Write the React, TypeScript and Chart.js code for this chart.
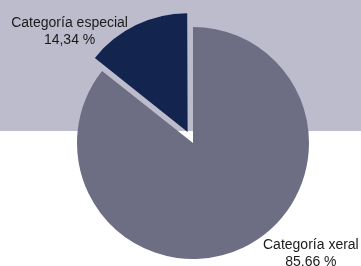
import React, { useEffect, useRef } from "react";
import { Chart, registerables } from "chart.js";

Chart.register(...registerables);

const categories = ["Categoría xeral", "Categoría especial"];
const values = [85.66, 14.34];
const colors = ["#6d6d84", "#13254f"];
const explode = [0, 15];

const fmt = (v: number) => v.toFixed(2).replace(".", ",") + " %";

const total = values.reduce((a, b) => a + b, 0);
// Chart.js translates an arc by offset/4 * (1 + fix); invert to get a pixel explode distance
const arcFactor = (v: number) => {
  const circ = (v / total) * Math.PI * 2;
  const fix = 1 - Math.sin(Math.min(Math.PI, circ));
  return (1 + fix) / 4;
};
const chartOffsets = values.map((v, i) => explode[i] / arcFactor(v));

const bandPlugin = {
  id: "band",
  beforeDraw(chart: any) {
    const { ctx, width } = chart;
    ctx.save();
    ctx.fillStyle = "#bcbccc";
    ctx.fillRect(0, 0, width, 131);
    ctx.restore();
  },
};

const labelPlugin = {
  id: "sliceLabels",
  afterDatasetsDraw(chart: any) {
    const { ctx } = chart;
    const meta = chart.getDatasetMeta(0);
    ctx.save();
    ctx.font = "14px 'Liberation Sans', Arial, sans-serif";
    ctx.fillStyle = "#1a1a1a";
    ctx.textAlign = "center";
    ctx.textBaseline = "alphabetic";
    meta.data.forEach((arc: any, i: number) => {
      const { x, y, startAngle, endAngle, outerRadius } = arc.getProps(
        ["x", "y", "startAngle", "endAngle", "outerRadius"],
        true
      );
      const mid = (startAngle + endAngle) / 2;
      const r = outerRadius + (explode[i] || 0);
      const px = x + Math.cos(mid) * r;
      const py = y + Math.sin(mid) * r;
      const lines = [categories[i], fmt(values[i])];
      const w = Math.max(...lines.map((l) => ctx.measureText(l).width));
      const right = px >= x;
      const cx = right ? px + 19.5 + w / 2 : px - 8 - w / 2;
      const base = py + 2;
      ctx.fillText(lines[0], cx, base);
      ctx.fillText(lines[1], cx, base + 16.5);
    });
    ctx.restore();
  },
};

export default function App() {
  const ref = useRef<HTMLCanvasElement | null>(null);
  useEffect(() => {
    if (!ref.current) return;
    const chart = new Chart(ref.current, {
      type: "pie",
      data: {
        labels: categories,
        datasets: [
          {
            data: values,
            backgroundColor: colors,
            borderWidth: 0,
            offset: chartOffsets,
          },
        ],
      },
      options: {
        animation: false,
        responsive: true,
        maintainAspectRatio: false,
        radius: 116,
        layout: { padding: { top: 20, bottom: 0, left: 70, right: 45 } },
        plugins: {
          legend: { display: false },
          tooltip: { enabled: false },
        },
      },
      plugins: [bandPlugin, labelPlugin],
    });
    return () => chart.destroy();
  }, []);
  return (
    <div style={{ position: "absolute", left: 0, top: 0, width: 361, height: 266, background: "#ffffff" }}>
      <canvas ref={ref} />
    </div>
  );
}
